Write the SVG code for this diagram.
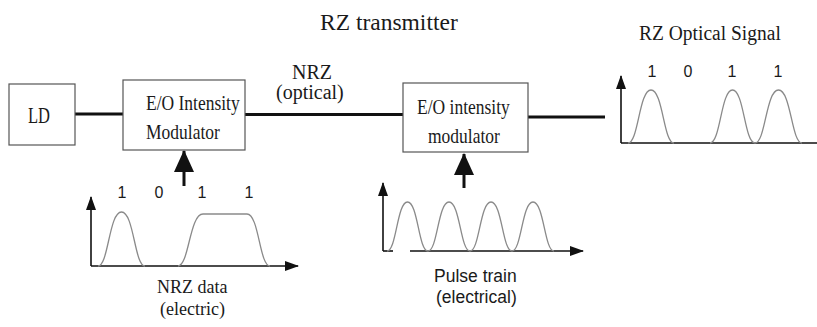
<svg xmlns="http://www.w3.org/2000/svg" width="817" height="327" viewBox="0 0 817 327">
<defs>
<style>
.box{fill:#fff;stroke:#555;stroke-width:1.2}
.serif{font-family:"Liberation Serif","Times New Roman",serif;fill:#1a1a1a}
.sans{font-family:"Liberation Sans",Arial,sans-serif;fill:#1a1a1a}
.link{stroke:#111;stroke-width:3;fill:none}
.axis{stroke:#111;stroke-width:1.6;fill:none}
.pulse{stroke:#8a8a8a;stroke-width:1.3;fill:none}
.big{stroke:#111;stroke-width:3;fill:none}
</style>
<marker id="ax" markerUnits="userSpaceOnUse" markerWidth="14" markerHeight="10" refX="13" refY="5" orient="auto" viewBox="0 0 14 10">
<path d="M0,0 L14,5 L0,10 z" fill="#111"/>
</marker>
<marker id="bigArrow" markerUnits="userSpaceOnUse" markerWidth="22" markerHeight="20" refX="21" refY="10" orient="auto" viewBox="0 0 22 20">
<path d="M0,0 L22,10 L0,20 z" fill="#111"/>
</marker>
</defs>
<rect width="817" height="327" fill="#fff"/>

<text class="serif" x="320" y="30" font-size="23.5">RZ transmitter</text>

<g id="connectors">
<line class="link" x1="75" y1="114" x2="123" y2="114"/>
<line class="link" x1="245" y1="114.5" x2="403" y2="114.5" stroke-width="2.5"/>
<line class="link" x1="528" y1="117" x2="605" y2="117"/>
<line class="big" x1="184" y1="186" x2="184" y2="151" marker-end="url(#bigArrow)"/>
<line class="big" x1="464" y1="188" x2="464" y2="154" marker-end="url(#bigArrow)"/>
</g>

<g id="ld">
<rect class="box" x="9" y="84" width="66" height="61"/>
<text class="serif" font-size="16.5" transform="translate(28,123) scale(1,1.4)">LD</text>
</g>

<g id="modulator1">
<rect class="box" x="123" y="80" width="122" height="70"/>
<text class="serif" font-size="17.5" transform="translate(146,110) scale(1,1.2)">E/O Intensity</text>
<text class="serif" font-size="17.5" transform="translate(146,139) scale(1,1.2)">Modulator</text>
</g>

<g id="nrz-optical-label">
<text class="serif" x="292" y="79" font-size="20">NRZ</text>
<text class="serif" x="276" y="99" font-size="20">(optical)</text>
</g>

<g id="modulator2">
<rect class="box" x="403" y="83" width="125" height="69"/>
<text class="serif" font-size="17.5" transform="translate(417,114) scale(1,1.2)">E/O intensity</text>
<text class="serif" font-size="17.5" transform="translate(428,143) scale(1,1.2)">modulator</text>
</g>

<g id="nrz-data">
<line class="axis" x1="91" y1="266" x2="91" y2="197" marker-end="url(#ax)"/>
<line class="axis" x1="91" y1="266" x2="298" y2="266" marker-end="url(#ax)"/>
<path class="pulse" d="M98,266 C108.5,266 109,212 121.5,212 C134,212 134.5,266 145,266"/>
<path class="pulse" d="M178,266 C189,266 189.5,214 203,214 L247,214 C259,214 259.5,266 270,266"/>
<g class="sans" font-size="16" text-anchor="middle">
<text x="122" y="198">1</text>
<text x="159" y="198">0</text>
<text x="202" y="198">1</text>
<text x="249" y="198">1</text>
</g>
<text class="serif" x="157" y="293" font-size="18">NRZ data</text>
<text class="serif" x="160" y="315" font-size="18">(electric)</text>
</g>

<g id="pulse-train">
<line class="axis" x1="383" y1="251" x2="383" y2="183" marker-end="url(#ax)"/>
<line class="axis" x1="383" y1="251" x2="393" y2="251"/>
<line class="axis" x1="410" y1="251" x2="583" y2="251" marker-end="url(#ax)"/>
<path class="pulse" d="M387,251 C396.5,251 397,202 407.5,202 C418,202 418.5,251 428,251 C437.5,251 438,202 449,202 C460,202 460.5,251 470,251 C479.5,251 480,202 491,202 C502,202 502.5,251 512,251 C521.5,251 522,202 533,202 C544,202 544.5,251 554,251"/>
<text class="sans" x="434" y="282" font-size="17.5">Pulse train</text>
<text class="sans" x="436" y="303" font-size="17.5">(electrical)</text>
</g>

<g id="rz-signal">
<text class="serif" font-size="19.5" transform="translate(639,40) scale(1,1.12)">RZ Optical Signal</text>
<line class="axis" x1="621" y1="143" x2="621" y2="76" marker-end="url(#ax)"/>
<line class="axis" x1="621" y1="143" x2="817" y2="143"/>
<path class="pulse" d="M628,143 C638.5,143 639,90 651,90 C663,90 663.5,143 674,143"/>
<path class="pulse" d="M710,143 C720.5,143 721,90 732.5,90 C744,90 744.5,143 755,143"/>
<path class="pulse" d="M755,143 C765.5,143 766,90 778.5,90 C791,90 791.5,143 802,143"/>
<g class="sans" font-size="16" text-anchor="middle">
<text x="652" y="77">1</text>
<text x="688" y="77">0</text>
<text x="732" y="77">1</text>
<text x="778" y="77">1</text>
</g>
</g>
</svg>
